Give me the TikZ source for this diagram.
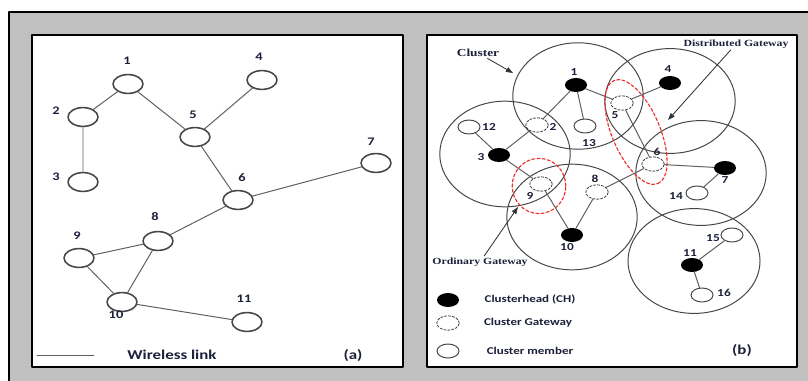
\documentclass[tikz,border=0pt]{standalone}
\usepackage{fontspec}
\setmainfont{Carlito}
\newfontfamily\gwfont{Liberation Serif}
\usetikzlibrary{arrows.meta, shapes.geometric}
\definecolor{framegray}{RGB}{192,192,192}
\definecolor{linkgray}{RGB}{95,95,95}
\definecolor{ringgray}{RGB}{70,70,70}
\definecolor{gwred}{RGB}{238,45,45}
\definecolor{labelnavy}{RGB}{28,32,58}
\newcommand{\wide}[1]{\scalebox{1.25}[1]{#1}}

\tikzset{
  linknode/.style={ellipse, draw=ringgray, line width=1.1pt, fill=white,
    minimum width=0.75cm, minimum height=0.47cm, inner sep=0pt},
  headnode/.style={ellipse, fill=black, minimum width=0.55cm,
    minimum height=0.35cm, inner sep=0pt},
  gatenode/.style={ellipse, draw=ringgray, line width=0.6pt,
    dash pattern=on 1.6pt off 1.2pt, minimum width=0.56cm,
    minimum height=0.36cm, inner sep=0pt},
  membernode/.style={ellipse, draw=ringgray, line width=0.7pt, fill=white,
    minimum width=0.55cm, minimum height=0.35cm, inner sep=0pt},
  numa/.style={font=\bfseries\fontsize{8.2}{9}\selectfont, text=labelnavy, inner sep=0pt},
  numb/.style={font=\bfseries\fontsize{7.6}{8}\selectfont, text=labelnavy, inner sep=0pt},
  keytext/.style={font=\bfseries\fontsize{7.4}{8}\selectfont, text=labelnavy, inner sep=0pt},
  gwtext/.style={font=\gwfont\bfseries\fontsize{6.7}{7}\selectfont, text=labelnavy, inner sep=1pt},
  link/.style={linkgray, line width=0.7pt},
  ring/.style={draw=ringgray, line width=0.7pt},
  redring/.style={draw=gwred, line width=0.8pt, dash pattern=on 2.2pt off 1.5pt},
  pointer/.style={-{Triangle[length=5pt,width=3.6pt]}, black!80, line width=0.6pt}
}

\begin{document}
\begin{tikzpicture}[x=0.025cm, y=-0.025cm, line cap=round, line join=round]
    \useasboundingbox (0,0) rectangle (808,381);
    \clip (0,0) rectangle (808,381);

    % outer frame and the two panels
    \fill[white] (0,0) rectangle (808,381);
    \draw[fill=framegray, line width=1.3pt] (9,12) rectangle (830,400);
    \draw[fill=white, line width=1.6pt] (32,35) rectangle (403,367);
    \draw[fill=white, line width=1.6pt] (427,35) rectangle (797,367);

    % ---- (a) wireless network ----
    \node[linknode] (a1) at (128,84) {};
    \node[linknode] (a2) at (83,117) {};
    \node[linknode] (a3) at (83,182) {};
    \node[linknode] (a4) at (262,80) {};
    \node[linknode] (a5) at (195,137) {};
    \node[linknode] (a6) at (238,200) {};
    \node[linknode] (a7) at (376,163) {};
    \node[linknode] (a8) at (158,241) {};
    \node[linknode] (a9) at (79,258) {};
    \node[linknode] (a10) at (122,302) {};
    \node[linknode] (a11) at (247,322) {};

    \node[numa] (la1) at (127,61) {\wide{1}};
    \node[numa] (la2) at (56,111) {\wide{2}};
    \node[numa] (la3) at (56,177) {\wide{3}};
    \node[numa] (la4) at (259,57) {\wide{4}};
    \node[numa] (la5) at (193,115) {\wide{5}};
    \node[numa] (la6) at (242,178) {\wide{6}};
    \node[numa] (la7) at (371,142) {\wide{7}};
    \node[numa] (la8) at (155,217) {\wide{8}};
    \node[numa] (la9) at (77,236) {\wide{9}};
    \node[numa] (la10) at (116,315) {\wide{10}};
    \node[numa] (la11) at (244,299) {\wide{11}};

    \draw[link] (a1)--(a2) (a2)--(a3) (a1)--(a5) (a4)--(a5) (a5)--(a6)
                (a6)--(a7) (a6)--(a8) (a8)--(a9) (a8)--(a10) (a9)--(a10)
                (a10)--(a11);

    % legend (a)
    \coordinate (wl1) at (37,355);
    \coordinate (wl2) at (94,355);
    \draw[link] (wl1)--(wl2);
    \node[font=\bfseries\fontsize{9.6}{10}\selectfont, text=labelnavy] (wltext) at (172,355) {\wide{Wireless link}};
    \node[font=\bfseries\fontsize{9.6}{10}\selectfont, text=labelnavy] (tagA) at (353,356) {\wide{(a)}};

    % ---- (b) clustered network ----
    \draw[ring] (578,96) ellipse [x radius=1.63cm, y radius=1.33cm];
    \draw[ring] (670,101) ellipse [x radius=1.63cm, y radius=1.31cm];
    \draw[ring] (505,154) ellipse [x radius=1.63cm, y radius=1.32cm];
    \draw[ring] (572,217) ellipse [x radius=1.63cm, y radius=1.32cm];
    \draw[ring] (701,173) ellipse [x radius=1.63cm, y radius=1.31cm];
    \draw[ring] (694,261) ellipse [x radius=1.65cm, y radius=1.31cm];

    % gateway groups
    \draw[redring] (539,186) ellipse [x radius=0.67cm, y radius=0.69cm];
    \begin{scope}[shift={(636,132)}, rotate=-67]
        \draw[redring] (0,0) ellipse [x radius=1.4cm, y radius=0.6cm];
    \end{scope}

    \node[headnode] (b1) at (576,85) {};
    \node[gatenode] (b2) at (537,125) {};
    \node[headnode] (b3) at (499,155) {};
    \node[headnode] (b4) at (670,83) {};
    \node[gatenode] (b5) at (622,103) {};
    \node[gatenode] (b6) at (653,164) {};
    \node[headnode] (b7) at (725,168) {};
    \node[gatenode] (b8) at (597,192) {};
    \node[gatenode] (b9) at (541,184) {};
    \node[headnode] (b10) at (572,235) {};
    \node[headnode] (b11) at (692,265) {};
    \node[membernode] (b12) at (469,127) {};
    \node[membernode] (b13) at (585,126) {};
    \node[membernode] (b14) at (697,193) {};
    \node[membernode] (b15) at (732,235) {};
    \node[membernode] (b16) at (702,295) {};

    \node[numb] (lb1) at (574,72) {\wide{1}};
    \node[numb] (lb2) at (553,127) {\wide{2}};
    \node[numb] (lb3) at (481,157) {\wide{3}};
    \node[numb] (lb4) at (668,69) {\wide{4}};
    \node[numb] (lb5) at (615,115) {\wide{5}};
    \node[numb] (lb6) at (657,152) {\wide{6}};
    \node[numb] (lb7) at (725,180) {\wide{7}};
    \node[numb] (lb8) at (595,179) {\wide{8}};
    \node[numb] (lb9) at (530,196) {\wide{9}};
    \node[numb] (lb10) at (567,247) {\wide{10}};
    \node[numb] (lb11) at (690,253) {\wide{11}};
    \node[numb] (lb12) at (489,127) {\wide{12}};
    \node[numb] (lb13) at (589,143) {\wide{13}};
    \node[numb] (lb14) at (676,196) {\wide{14}};
    \node[numb] (lb15) at (713,238) {\wide{15}};
    \node[numb] (lb16) at (724,293) {\wide{16}};

    \draw[link] (b1)--(b2) (b1)--(b5) (b1)--(b13) (b4)--(b5) (b2)--(b3)
                (b3)--(b12) (b3)--(b9) (b5)--(b6) (b6)--(b7) (b6)--(b8)
                (b7)--(b14) (b8)--(b10) (b9)--(b10) (b11)--(b15) (b11)--(b16);

    % callouts
    \node[gwtext, font=\gwfont\bfseries\fontsize{7.6}{8}\selectfont] (clustertxt) at (478,53) {\wide{Cluster}};
    \coordinate (clusterhit) at (513,73);
    \draw[pointer] (clustertxt)--(clusterhit);

    \node[gwtext] (dgtxt) at (736,44) {\wide{Distributed Gateway}};
    \coordinate (dghit) at (668,120);
    \draw[pointer] (dgtxt)--(dghit);

    \node[gwtext] (ogtxt) at (480,262) {\wide{Ordinary Gateway}};
    \coordinate (oghit) at (518,207);
    \draw[pointer] (ogtxt)--(oghit);

    % legend (b)
    \node[headnode] (keyhead) at (448,300) {};
    \node[gatenode] (keygate) at (448,323) {};
    \node[membernode] (keymember) at (448,351) {};
    \node[keytext] (keyheadtxt) at (530,299) {\wide{Clusterhead (CH)}};
    \node[keytext] (keygatetxt) at (528,323) {\wide{Cluster Gateway}};
    \node[keytext] (keymembertxt) at (530,351) {\wide{Cluster member}};
    \node[font=\bfseries\fontsize{9.6}{10}\selectfont, text=labelnavy] (tagB) at (742,351) {\wide{(b)}};
\end{tikzpicture}
\end{document}
